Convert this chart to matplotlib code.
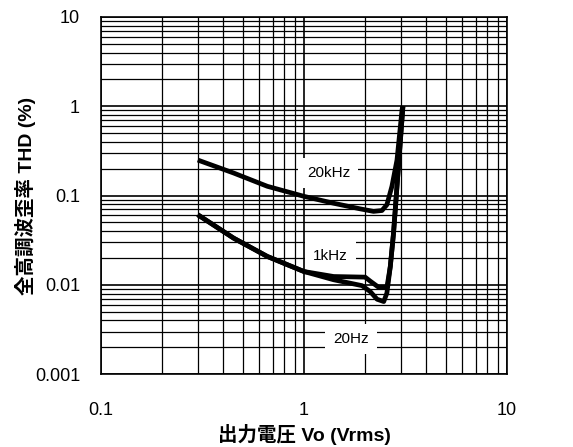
import matplotlib
matplotlib.use("Agg")
import matplotlib.pyplot as plt
from matplotlib.ticker import FixedLocator, FixedFormatter, LogLocator, NullFormatter

plt.rcParams['font.family'] = ['Liberation Sans', 'Noto Sans CJK JP', 'DejaVu Sans']

# Data
v_20k = [0.30, 0.45, 0.66, 1.00, 1.40, 1.89, 2.20, 2.42, 2.56, 2.71, 2.87, 3.04, 3.07]
thd_20k = [0.25, 0.179, 0.127, 0.098, 0.082, 0.071, 0.0665, 0.068, 0.079, 0.127, 0.25, 0.92, 1.0]

v_1k = [0.30, 0.45, 0.66, 1.00, 1.40, 2.00, 2.12, 2.33, 2.56, 2.66, 2.76, 2.87, 3.07]
thd_1k = [0.061, 0.0334, 0.0208, 0.0141, 0.0124, 0.0122, 0.011, 0.0094, 0.0094, 0.016, 0.038, 0.127, 1.0]

v_20 = [0.30, 0.45, 0.66, 1.00, 1.40, 1.93, 2.12, 2.29, 2.47, 2.56, 2.66, 2.76, 2.87, 3.07]
thd_20 = [0.061, 0.0334, 0.0208, 0.0141, 0.0114, 0.0098, 0.0084, 0.0069, 0.0065, 0.0081, 0.016, 0.038, 0.127, 1.0]

labels = ["20kHz", "1kHz", "20Hz"]
label_pos = [(1.32, 0.179), (1.35, 0.0212), (1.70, 0.00247)]

x_ticks = [0.1, 1, 10]
x_ticklabels = ["0.1", "1", "10"]
y_ticks = [0.001, 0.01, 0.1, 1, 10]
y_ticklabels = ["0.001", "0.01", "0.1", "1", "10"]

fig = plt.figure(figsize=(5.73, 4.47), dpi=100)
ax = fig.add_axes([0.176, 0.163, 0.709, 0.799])
ax.set_xscale('log')
ax.set_yscale('log')
ax.set_xlim(0.1, 10)
ax.set_ylim(0.001, 10)

ax.xaxis.set_major_locator(FixedLocator(x_ticks))
ax.xaxis.set_major_formatter(FixedFormatter(x_ticklabels))
ax.yaxis.set_major_locator(FixedLocator(y_ticks))
ax.yaxis.set_major_formatter(FixedFormatter(y_ticklabels))
ax.xaxis.set_minor_locator(LogLocator(base=10, subs=range(2, 10)))
ax.yaxis.set_minor_locator(LogLocator(base=10, subs=range(2, 10)))
ax.xaxis.set_minor_formatter(NullFormatter())
ax.yaxis.set_minor_formatter(NullFormatter())

ax.grid(True, which='major', color='black', linewidth=1.2)
ax.grid(True, which='minor', color='black', linewidth=0.9)
ax.tick_params(which='both', length=0)
ax.tick_params(axis='x', pad=20, labelsize=13)
ax.tick_params(axis='y', pad=15, labelsize=13)
for s in ax.spines.values():
    s.set_color('black')
    s.set_linewidth(1.2)

for v, t in [(v_20k, thd_20k), (v_1k, thd_1k), (v_20, thd_20)]:
    ax.plot(v, t, color='black', linewidth=3.4, solid_capstyle='butt', solid_joinstyle='round', zorder=4)

for lab, (x, y) in zip(labels, label_pos):
    ax.text(x, y, lab, fontsize=11, ha='center', va='center', zorder=3,
            bbox=dict(facecolor='white', edgecolor='none', pad=6))

ax.set_xlabel("出力電圧 Vo (Vrms)", fontsize=14, labelpad=4, fontweight='bold')
ax.set_ylabel("全高調波歪率 THD (%)", fontsize=14, labelpad=2, fontweight='bold')
ax.yaxis.set_label_coords(-0.16, 0.5)

fig.savefig("out.png", dpi=100, facecolor='white')
